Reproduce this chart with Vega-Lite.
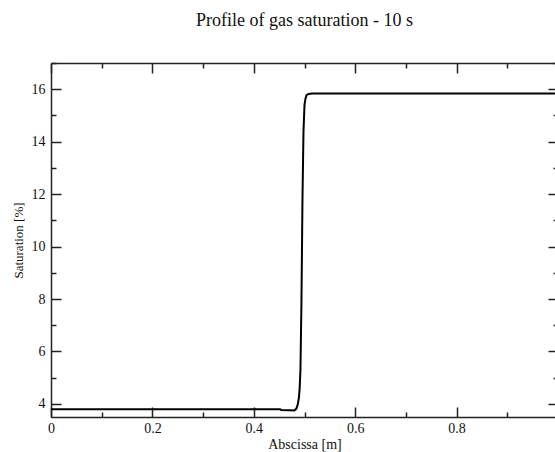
{
  "$schema": "https://vega.github.io/schema/vega-lite/v6.json",
  "autosize": "none",
  "width": 507,
  "height": 354,
  "padding": {"left": 51, "top": 63, "right": 0, "bottom": 35},
  "background": "white",
  "config": {
    "view": {"stroke": null},
    "font": "Liberation Serif",
    "axis": {
      "domainColor": "#222222",
      "domainWidth": 1.5,
      "tickColor": "#222222",
      "tickWidth": 1.5,
      "labelFont": "Liberation Serif",
      "labelFontSize": 14,
      "labelColor": "#111111",
      "titleFont": "Liberation Serif",
      "titleFontSize": 14,
      "titleFontWeight": "normal",
      "titleColor": "#111111",
      "grid": false
    }
  },
  "title": {
    "text": "Profile of gas saturation - 10 s",
    "font": "Liberation Serif",
    "fontSize": 18,
    "fontWeight": "normal",
    "color": "#111111",
    "frame": "group",
    "anchor": "middle",
    "offset": 26
  },
  "data": {
    "values": [
      {"x": 0, "y": 3.80},
      {"x": 0.1, "y": 3.80},
      {"x": 0.2, "y": 3.80},
      {"x": 0.3, "y": 3.80},
      {"x": 0.4, "y": 3.80},
      {"x": 0.452, "y": 3.80},
      {"x": 0.454, "y": 3.77},
      {"x": 0.47, "y": 3.76},
      {"x": 0.480, "y": 3.75},
      {"x": 0.484, "y": 3.82},
      {"x": 0.487, "y": 4.0},
      {"x": 0.489, "y": 4.25},
      {"x": 0.4905, "y": 4.6},
      {"x": 0.492, "y": 5.3},
      {"x": 0.494, "y": 7.9},
      {"x": 0.496, "y": 11.8},
      {"x": 0.498, "y": 14.4},
      {"x": 0.500, "y": 15.4},
      {"x": 0.502, "y": 15.65},
      {"x": 0.504, "y": 15.77},
      {"x": 0.508, "y": 15.82},
      {"x": 0.515, "y": 15.84},
      {"x": 0.6, "y": 15.84},
      {"x": 0.8, "y": 15.84},
      {"x": 1.0, "y": 15.84}
    ]
  },
  "encoding": {
    "x": {"field": "x", "type": "quantitative", "scale": {"domain": [0, 1], "nice": false, "zero": false}},
    "y": {"field": "y", "type": "quantitative", "scale": {"domain": [3.5, 17], "nice": false, "zero": false}}
  },
  "layer": [
    {
      "mark": {"type": "line", "color": "#000000", "strokeWidth": 2, "clip": true},
      "encoding": {
        "x": {
          "field": "x", "type": "quantitative",
          "axis": {
            "orient": "bottom",
            "title": "Abscissa [m]",
            "format": "~g",
            "values": [0, 0.1, 0.2, 0.3, 0.4, 0.5, 0.6, 0.7, 0.8, 0.9],
            "tickSize": {"condition": {"test": "round(datum.value*10) % 2 === 0", "value": -10}, "value": -5},
            "labelExpr": "round(datum.value*10) % 2 === 0 ? datum.label : ''",
            "labelFont": "Liberation Serif",
            "labelFontSize": 14,
            "labelPadding": 14,
            "labelFlush": false,
            "labelOverlap": false,
            "titleFont": "Liberation Serif",
            "titleFontSize": 14,
            "titlePadding": -3
          }
        },
        "y": {
          "field": "y", "type": "quantitative",
          "axis": {
            "orient": "left",
            "title": "Saturation [%]",
            "format": "~g",
            "titleFont": "Liberation Serif",
            "titleFontSize": 13,
            "values": [4, 5, 6, 7, 8, 9, 10, 11, 12, 13, 14, 15, 16, 17],
            "tickSize": {"condition": {"test": "datum.value % 2 === 0", "value": -10}, "value": -5},
            "labelExpr": "datum.value % 2 === 0 ? datum.label : ''",
            "labelFont": "Liberation Serif",
            "labelFontSize": 14,
            "labelPadding": 16,
            "labelFlush": false,
            "labelOverlap": false,
            "titlePadding": 6
          }
        }
      }
    },
    {
      "mark": {"type": "line", "opacity": 0},
      "encoding": {
        "x": {
          "field": "x", "type": "quantitative",
          "axis": {
            "orient": "top",
            "title": null,
            "labels": false,
            "values": [0, 0.1, 0.2, 0.3, 0.4, 0.5, 0.6, 0.7, 0.8, 0.9],
            "tickSize": {"condition": {"test": "round(datum.value*10) % 2 === 0", "value": -10}, "value": -5}
          }
        },
        "y": {
          "field": "y", "type": "quantitative",
          "axis": {
            "orient": "right",
            "title": null,
            "labels": false,
            "values": [4, 5, 6, 7, 8, 9, 10, 11, 12, 13, 14, 15, 16, 17],
            "tickSize": {"condition": {"test": "datum.value % 2 === 0", "value": -10}, "value": -5}
          }
        }
      }
    }
  ],
  "resolve": {"axis": {"x": "independent", "y": "independent"}}
}
